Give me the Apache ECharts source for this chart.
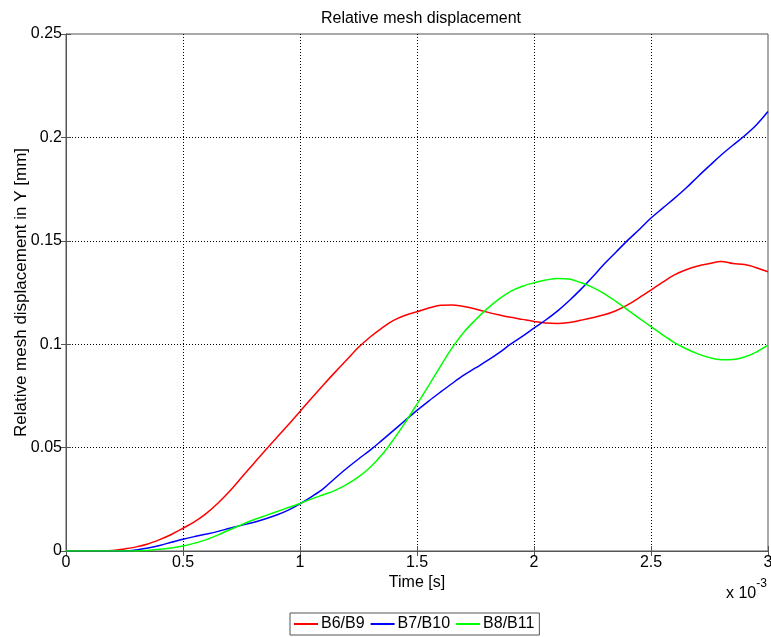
<!DOCTYPE html>
<html>
<head>
<meta charset="utf-8">
<script src="https://cdn.jsdelivr.net/npm/echarts@6/dist/echarts.min.js"></script>
<style>html,body{margin:0;padding:0;background:#fff;}#c{width:771px;height:637px;}</style>
</head>
<body>
<div id="c"></div>
<script>
// time in units of 1e-3 s
var time = [0,0.05,0.1,0.15,0.2,0.25,0.3,0.35,0.4,0.45,0.5,0.55,0.6,0.65,0.7,0.75,0.8,0.85,0.9,0.95,1.0,1.05,1.1,1.15,1.2,1.25,1.3,1.35,1.4,1.45,1.5,1.55,1.6,1.65,1.7,1.75,1.8,1.85,1.9,1.95,2.0,2.05,2.1,2.15,2.2,2.25,2.3,2.35,2.4,2.45,2.5,2.55,2.6,2.65,2.7,2.75,2.8,2.85,2.9,2.95,3.0];
var b6b9 = [0,0,0,0,0.0002,0.001,0.002,0.0034,0.0055,0.008,0.011,0.0142,0.0182,0.0232,0.029,0.0355,0.042,0.0485,0.0548,0.061,0.0675,0.074,0.0803,0.0865,0.0925,0.0985,0.1035,0.1078,0.1115,0.114,0.1157,0.1175,0.1188,0.119,0.1182,0.117,0.1155,0.1142,0.113,0.112,0.111,0.1102,0.110,0.1105,0.1116,0.1128,0.1142,0.1162,0.119,0.1225,0.1262,0.130,0.1335,0.136,0.1378,0.139,0.140,0.139,0.1385,0.137,0.135];
var b7b10 = [0,0,0,0,0,0,0.0005,0.0015,0.0027,0.0042,0.0057,0.007,0.0082,0.0095,0.011,0.0124,0.0138,0.0155,0.0174,0.0198,0.0228,0.0263,0.0302,0.0352,0.040,0.0445,0.0488,0.0535,0.0583,0.0632,0.068,0.0725,0.0768,0.081,0.085,0.0885,0.092,0.0958,0.1,0.1038,0.1078,0.1117,0.116,0.121,0.1265,0.1325,0.1388,0.1445,0.1502,0.1555,0.161,0.1658,0.1705,0.1755,0.181,0.1863,0.1915,0.1962,0.2008,0.206,0.2125];
var b8b11 = [0,0,0,0,0,0,0,0.0003,0.0008,0.0015,0.0024,0.0038,0.0055,0.0078,0.0103,0.0127,0.015,0.017,0.019,0.021,0.023,0.0252,0.0272,0.0293,0.0322,0.0358,0.0405,0.0465,0.0540,0.0622,0.071,0.080,0.0893,0.0982,0.1058,0.1118,0.1172,0.1218,0.1255,0.128,0.1297,0.131,0.1318,0.1315,0.1298,0.1275,0.1245,0.1207,0.1166,0.1125,0.1085,0.1045,0.1008,0.0978,0.0953,0.0935,0.0925,0.0926,0.0938,0.0962,0.0995];
var seriesNames = ['B6/B9','B7/B10','B8/B11'];
var xTicks = [0,0.5,1,1.5,2,2.5,3];
var yTicks = [0,0.05,0.1,0.15,0.2,0.25];

function pairs(v){ return time.map(function(t,i){ return [t, v[i]]; }); }
var font = 'Liberation Sans, Arial, sans-serif';
var chart = echarts.init(document.getElementById('c'));
var dotted = {color:'#000', width:1, type:[1,2]};
chart.setOption({
  animation:false,
  title:{text:'Relative mesh displacement', left:416, textAlign:'center', top:6,
    textStyle:{fontFamily:font, fontSize:16, fontWeight:'normal', color:'#000'}},
  grid:{left:66, right:3, top:34, bottom:86, show:true, borderColor:'#555', borderWidth:1,
    containLabel:false, outerBoundsMode:'none'},
  legend:{data:seriesNames, bottom:2, left:290, itemWidth:24, itemHeight:2, itemGap:6,
    borderColor:'#555', borderWidth:1, padding:[3,5,3,4], icon:'rect',
    textStyle:{fontFamily:font, fontSize:16, color:'#000', padding:[0,0,0,-2]}},
  xAxis:[{type:'value', min:0, max:3, interval:0.5, position:'bottom',
    name:'Time [s]', nameLocation:'middle', nameGap:24, nameMoveOverlap:false,
    nameTextStyle:{fontFamily:font, fontSize:16, color:'#000'},
    axisLine:{show:true, lineStyle:{color:'#555'}},
    axisTick:{show:true, inside:true, length:5, lineStyle:{color:'#555'}},
    axisLabel:{fontFamily:font, fontSize:16, color:'#000', margin:4,
      formatter:function(v){ return String(v); }},
    splitLine:{show:true, showMinLine:false, showMaxLine:false, lineStyle:dotted}},
   {type:'value', min:0, max:3, interval:0.5, position:'top',
    axisLine:{show:true, lineStyle:{color:'#555'}},
    axisTick:{show:true, inside:true, length:5, lineStyle:{color:'#555'}},
    axisLabel:{show:false}, splitLine:{show:false}}],
  yAxis:[{type:'value', min:0, max:0.25, interval:0.05, position:'left',
    name:'Relative mesh displacement in Y [mm]', nameLocation:'middle', nameGap:36, nameMoveOverlap:false,
    nameTextStyle:{fontFamily:font, fontSize:17, color:'#000'},
    axisLine:{show:true, lineStyle:{color:'#555'}},
    axisTick:{show:true, inside:true, length:5, lineStyle:{color:'#555'}},
    axisLabel:{fontFamily:font, fontSize:16, color:'#000', margin:4,
      formatter:function(v){ return String(parseFloat(v.toFixed(3))); }},
    splitLine:{show:true, showMinLine:false, showMaxLine:false, lineStyle:dotted}},
   {type:'value', min:0, max:0.25, interval:0.05, position:'right',
    axisLine:{show:true, lineStyle:{color:'#555'}},
    axisTick:{show:true, inside:true, length:5, lineStyle:{color:'#555'}},
    axisLabel:{show:false}, splitLine:{show:false}}],
  graphic:[{type:'text', left:726, top:578,
    style:{text:'{a|x 10}{b|-3}', rich:{a:{fontFamily:font, fontSize:16, fill:'#000', verticalAlign:'bottom', padding:[8,0,0,0]},
      b:{fontFamily:font, fontSize:12, fill:'#000', verticalAlign:'top', padding:[0,0,10,0]}}}}],
  series:[
    {name:seriesNames[0], type:'line', data:pairs(b6b9), showSymbol:false, smooth:0.35,
      lineStyle:{color:'#ff0000', width:1.5}, itemStyle:{color:'#ff0000'}},
    {name:seriesNames[1], type:'line', data:pairs(b7b10), showSymbol:false, smooth:0.35,
      lineStyle:{color:'#0000ff', width:1.5}, itemStyle:{color:'#0000ff'}},
    {name:seriesNames[2], type:'line', data:pairs(b8b11), showSymbol:false, smooth:0.35,
      lineStyle:{color:'#00ff00', width:1.5}, itemStyle:{color:'#00ff00'}}
  ]
});
</script>
</body>
</html>
